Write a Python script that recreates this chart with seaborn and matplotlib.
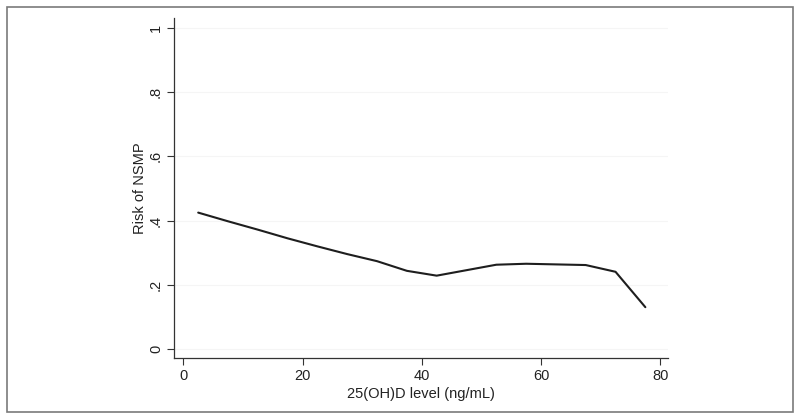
import numpy as np
import seaborn as sns
import matplotlib.pyplot as plt
import pandas as pd
from matplotlib.patches import Rectangle

# 25(OH)D level bins (midpoints) and estimated risk of NSMP
vitd_level = [2.5, 7.5, 12.5, 17.5, 22.5, 27.5, 32.5, 37.5,
              42.5, 47.5, 52.5, 57.5, 62.5, 67.5, 72.5, 77.5]
risk_nsmp = [0.425, 0.398, 0.372, 0.345, 0.320, 0.296, 0.274, 0.244,
             0.229, 0.246, 0.263, 0.266, 0.264, 0.262, 0.241, 0.131]
x_ticks = [0, 20, 40, 60, 80]
y_ticks = [0, 0.2, 0.4, 0.6, 0.8, 1.0]
y_tick_labels = ['0', '.2', '.4', '.6', '.8', '1']

df = pd.DataFrame({'level': vitd_level, 'risk': risk_nsmp})

sns.set_theme(style='white')
plt.rcParams['font.family'] = ['Liberation Sans', 'DejaVu Sans']

fig = plt.figure(figsize=(8, 4.2), dpi=100)
ax = fig.add_axes([174 / 800, 1 - 358 / 420, 494 / 800, 340 / 420])

sns.lineplot(data=df, x='level', y='risk', ax=ax, color='#1e1e1e', linewidth=1.5)

ax.set_xlim(-1.56, 81.3)
ax.set_ylim(-0.027, 1.03)
ax.set_xticks(x_ticks)
ax.set_yticks(y_ticks)
ax.set_yticklabels(y_tick_labels, rotation=90, va='center')
for y in y_ticks:
    ax.axhline(y, color='#f5f5f5', linewidth=0.8, zorder=0)

ax.tick_params(axis='both', direction='out', length=5, width=0.8, color='#333333',
               labelsize=10.5, labelcolor='#222222', pad=3, bottom=True, left=True)
for side in ['top', 'right']:
    ax.spines[side].set_visible(False)
for side in ['left', 'bottom']:
    ax.spines[side].set_color('#333333')
    ax.spines[side].set_linewidth(0.9)

ax.set_xlabel('25(OH)D level (ng/mL)', fontsize=10.5, color='#222222', labelpad=3)
ax.set_ylabel('Risk of NSMP', fontsize=10.5, color='#222222', labelpad=1.5)

# outer frame around the figure
fig.patches.append(Rectangle((7 / 800, 1 - 412 / 420), 786 / 800, 405 / 420,
                             transform=fig.transFigure, fill=False,
                             edgecolor='#7a7a7a', linewidth=1.2))

fig.savefig('out.png', dpi=100)
